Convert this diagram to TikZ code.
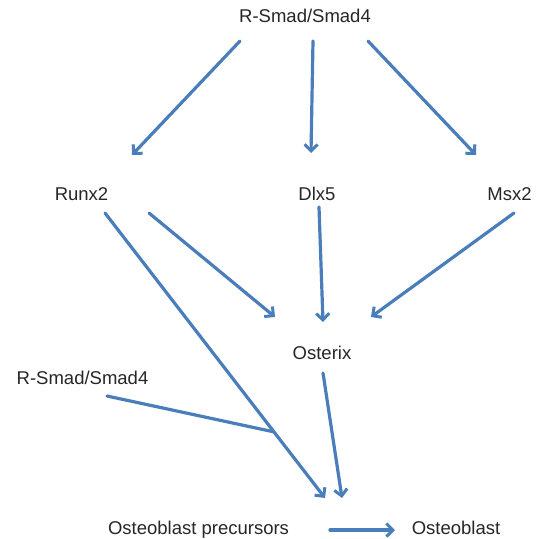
\documentclass[tikz,border=0pt]{standalone}
\usepackage{fontspec}
\setmainfont{Liberation Sans}
\usetikzlibrary{arrows.meta}
\definecolor{arrblue}{RGB}{74,126,187}
\tikzset{
  lbl/.style={inner sep=0pt, anchor=base, font=\fontsize{18.5}{22}\selectfont, text=black!85},
  arr/.style={draw=arrblue, line width=3.2pt, line cap=round, -{Straight Barb[length=6.5pt,width=13pt,line width=3pt]}},
  plain/.style={draw=arrblue, line width=3.2pt, line cap=round}
}
\begin{document}
\begin{tikzpicture}[x=1pt,y=-1pt]
\path[use as bounding box] (0,0) rectangle (536,539);
\node[lbl] (top) at (305,22.7) {R-Smad/Smad4};
\node[lbl] (runx) at (81.5,200.7) {Runx2};
\node[lbl] (dlx) at (317,200.7) {Dlx5};
\node[lbl] (msx) at (509.5,200.7) {Msx2};
\node[lbl] (osx) at (322,359) {Osterix};
\node[lbl] (smad) at (82.5,384) {R-Smad/Smad4};
\node[lbl] (pre) at (198.5,534) {Osteoblast precursors};
\node[lbl] (ob) at (456,534) {Osteoblast};

\draw[arr] ([shift={(-65,18.3)}]top.base) -- ([shift={(50.5,-45.7)}]runx.base);
\draw[arr] ([shift={(8,18.3)}]top.base) -- ([shift={(-6,-47.7)}]dlx.base);
\draw[arr] ([shift={(63,18.3)}]top.base) -- ([shift={(-33.5,-45.7)}]msx.base);
\draw[arr] ([shift={(67.5,12.3)}]runx.base) -- ([shift={(-47,-42)}]osx.base);
\draw[arr] ([shift={(2,6.3)}]dlx.base) -- ([shift={(1,-37)}]osx.base);
\draw[arr] ([shift={(4.5,12.3)}]msx.base) -- ([shift={(49,-42)}]osx.base);
\draw[arr] ([shift={(23.5,12.3)}]runx.base) -- coordinate[pos=0.768] (join) ([shift={(126.5,-36)}]pre.base);
\draw[plain] ([shift={(24.5,12)}]smad.base) -- (join);
\draw[arr] ([shift={(1,14)}]osx.base) -- ([shift={(143.5,-36)}]pre.base);
\draw[arr] ([shift={(131.5,-4)}]pre.base) -- ([shift={(-61,-4)}]ob.base);
\end{tikzpicture}
\end{document}
